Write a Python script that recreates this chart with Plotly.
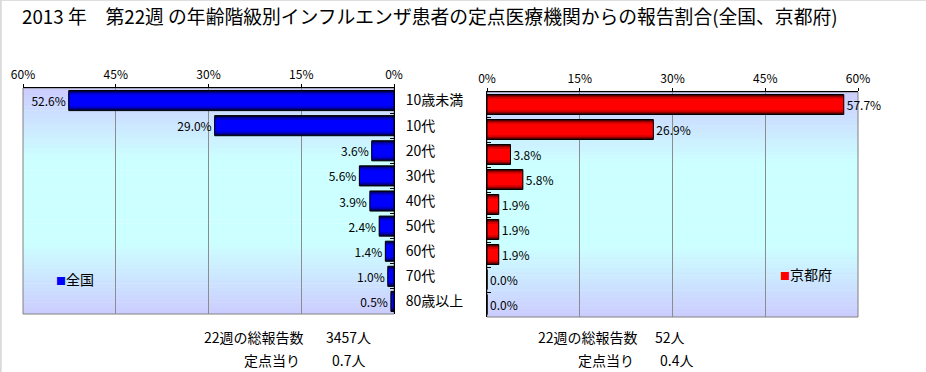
import plotly.graph_objects as go

# ---- data ----
categories = ["10歳未満", "10代", "20代", "30代", "40代", "50代", "60代", "70代", "80歳以上"]
zenkoku = [52.6, 29.0, 3.6, 5.6, 3.9, 2.4, 1.4, 1.0, 0.5]
kyoto = [57.7, 26.9, 3.8, 5.8, 1.9, 1.9, 1.9, 0.0, 0.0]
tick_vals = [0, 15, 30, 45, 60]
title_text = "2013 年　第22週 の年齢階級別インフルエンザ患者の定点医療機関からの報告割合(全国、京都府)"
left_summary = ["22週の総報告数", "3457人", "定点当り", "0.7人"]
right_summary = ["22週の総報告数", "52人", "定点当り", "0.4人"]
series_names = ["全国", "京都府"]

W, H = 926, 372
FONT = "Noto Sans CJK JP"

def px(x):
    return x / W

def py(y):
    return 1 - y / H

fig = go.Figure()

blue_layers = [(0.80, "#000040"), (0.70, "#000090"), (0.60, "#0000D0"), (0.46, "#0000FF")]
red_layers = [(0.80, "#400000"), (0.70, "#900000"), (0.60, "#D00000"), (0.46, "#FF0000")]

def add_series(vals, layers, xa, ya, name):
    for w, c in layers:
        fig.add_trace(go.Bar(x=vals, y=categories, orientation="h", width=w,
                             marker=dict(color=c, line=dict(width=0)),
                             xaxis=xa, yaxis=ya, hoverinfo="skip", showlegend=False))
    fig.add_trace(go.Bar(x=vals, y=categories, orientation="h", width=0.8, name=name,
                         marker=dict(color="rgba(0,0,0,0)", line=dict(color="black", width=1)),
                         text=vals, texttemplate="%{x:.1f}%", textposition="outside",
                         textfont=dict(family=FONT, size=12, color="black"),
                         cliponaxis=False, xaxis=xa, yaxis=ya, showlegend=False))

add_series(zenkoku, blue_layers, "x", "y", series_names[0])
add_series(kyoto, red_layers, "x2", "y2", series_names[1])

L_dom_x = [px(23), px(394)]
L_dom_y = [py(314), py(88)]
R_dom_x = [px(487), px(858)]
R_dom_y = [py(317), py(92)]

xcommon = dict(side="top", tickvals=tick_vals, ticktext=[f"{v}%" for v in tick_vals],
               showgrid=True, gridcolor="#8C8C8C", gridwidth=1, showline=True,
               linecolor="black", linewidth=1, ticks="outside", ticklen=3, tickcolor="black",
               tickfont=dict(family=FONT, size=12, color="black"), zeroline=False,
               fixedrange=True, automargin=False)
ycommon = dict(autorange="reversed", showline=True, linecolor="black", linewidth=1,
               ticks="inside", ticklen=4, tickcolor="black", tickson="boundaries",
               showgrid=False, zeroline=False, fixedrange=True, automargin=False,
               tickfont=dict(family=FONT, size=14, color="black"))

fig.update_layout(
    width=W, height=H, autosize=False,
    margin=dict(l=0, r=0, t=0, b=0, pad=0, autoexpand=False),
    paper_bgcolor="white", plot_bgcolor="rgba(0,0,0,0)",
    barmode="overlay", showlegend=False,
    xaxis=dict(domain=L_dom_x, range=[60, 0], anchor="y", **xcommon),
    yaxis=dict(domain=L_dom_y, side="right", anchor="x", showticklabels=True,
               ticklabelstandoff=8, **ycommon),
    xaxis2=dict(domain=R_dom_x, range=[0, 60], anchor="y2", **xcommon),
    yaxis2=dict(domain=R_dom_y, side="left", anchor="x2", showticklabels=False, **ycommon),
    title=dict(text=title_text, x=px(22), xanchor="left", y=py(17), yanchor="middle",
               xref="paper", yref="paper", automargin=False,
               font=dict(family=FONT, size=18.8, color="black")),
)

# gradient background bands (lavender at edges, cyan in the middle)
shapes = []
N = 60
for xr, yr in [("x domain", "y domain"), ("x2 domain", "y2 domain")]:
    for i in range(N):
        t = (i + 0.5) / N
        f = min(1.0, (1 - abs(2 * t - 1)) * 1.6)
        g = int(round(204 + (255 - 204) * f))
        shapes.append(dict(type="rect", xref=xr, yref=yr, x0=0, x1=1, y0=i / N, y1=(i + 1) / N + 0.002,
                           fillcolor=f"rgb(204,{g},255)", line=dict(width=0), layer="below"))
    shapes.append(dict(type="rect", xref=xr, yref=yr, x0=0, x1=1, y0=0, y1=1,
                       fillcolor="rgba(0,0,0,0)", line=dict(color="#808080", width=1), layer="below"))
# outer frame (left and top)
shapes.append(dict(type="line", xref="paper", yref="paper", x0=0.0008, x1=0.0008, y0=0, y1=1,
                   line=dict(color="#D9D9D9", width=2)))
shapes.append(dict(type="line", xref="paper", yref="paper", x0=0, x1=1, y0=0.999, y1=0.999,
                   line=dict(color="#D9D9D9", width=1)))
fig.update_layout(shapes=shapes)

ann = []
def text(t, x, y, size=14, anchor="center", yanchor="middle"):
    ann.append(dict(text=t, x=px(x), y=py(y), xref="paper", yref="paper", showarrow=False,
                    xanchor=anchor, yanchor=yanchor, font=dict(family=FONT, size=size, color="black")))

# legends
text("<span style='color:#0000FF;font-size:10px'>■</span>" + series_names[0], 54, 279, 14, "left")
text("<span style='color:#FF0000;font-size:10px'>■</span>" + series_names[1], 778, 274, 14, "left")

# summary texts
text(left_summary[0], 254, 337)
text(left_summary[1], 348, 337)
text(left_summary[2], 272, 371.5, yanchor="bottom")
text(left_summary[3], 348, 371.5, yanchor="bottom")
text(right_summary[0], 588, 337)
text(right_summary[1], 670, 337)
text(right_summary[2], 606, 371.5, yanchor="bottom")
text(right_summary[3], 676, 371.5, yanchor="bottom")
fig.update_layout(annotations=ann)

post = ("document.documentElement.style.margin='0';document.body.style.margin='0';"
        "document.body.style.padding='0';document.body.style.overflow='hidden';"
        "document.documentElement.style.overflow='hidden';")
fig.write_html("out.html", config={"responsive": False, "displayModeBar": False},
               post_script=post)
